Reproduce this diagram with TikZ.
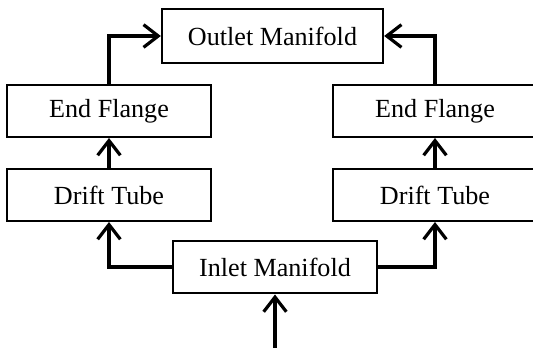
\documentclass[tikz,border=0pt]{standalone}
\usepackage{fontspec}
\setmainfont{Liberation Serif}
\usepackage{tikz}
\usetikzlibrary{arrows.meta,positioning}

\begin{document}
\begin{tikzpicture}[x=0.75pt,y=-0.75pt,
  part/.style={draw,line width=1.5pt,minimum width=153pt,minimum height=39pt,inner sep=0pt,font=\fontsize{19.6}{22}\selectfont},
  flow/.style={line width=3pt,-{Straight Barb[length=11pt,width=17pt,line width=2.4pt]}}]
\useasboundingbox (0,0) rectangle (533,348);
% Boxes
\node[part,minimum width=166pt,minimum height=40pt] (outlet) at (272.5,36) {Outlet Manifold};
\node[part] (lflange) at (109,111) {End Flange};
\node[part] (rflange) at (435,111) {End Flange};
\node[part] (ldrift) at (109,195) {Drift Tube};
\node[part] (rdrift) at (435,195) {Drift Tube};
\node[part] (inlet) at (275,267.5) {Inlet Manifold};
\coordinate (feed) at (275,350);
% Flow
\draw[flow] (feed) -- (inlet);
\draw[flow] (inlet.west) -| (ldrift.south);
\draw[flow] (inlet.east) -| (rdrift.south);
\draw[flow] (ldrift) -- (lflange);
\draw[flow] (rdrift) -- (rflange);
\draw[flow] (lflange.north) |- (outlet.west);
\draw[flow] (rflange.north) |- (outlet.east);
\end{tikzpicture}
\end{document}
